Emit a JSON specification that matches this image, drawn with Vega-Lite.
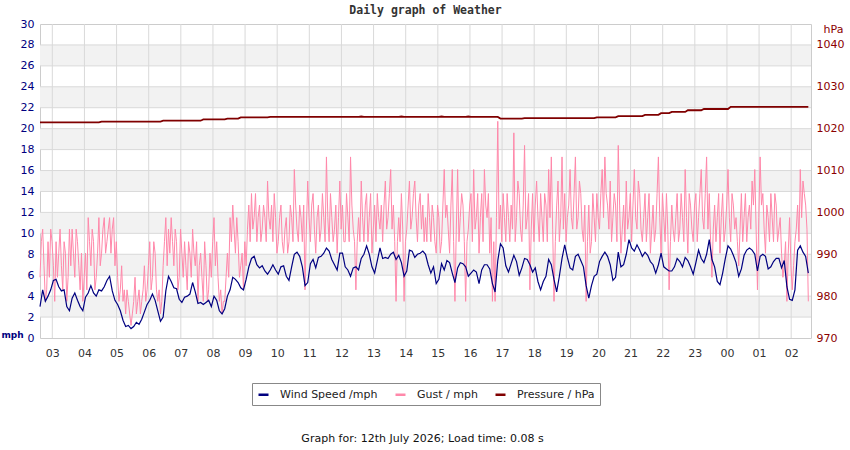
{
  "$schema": "https://vega.github.io/schema/vega-lite/v6.json",
  "width": 771,
  "height": 314,
  "autosize": "none",
  "padding": {"left": 40, "top": 24, "right": 39, "bottom": 112},
  "background": "white",
  "title": {
    "text": "Daily graph of Weather",
    "font": "DejaVu Sans Mono",
    "fontSize": 11.5,
    "fontWeight": "bold",
    "color": "#333333",
    "anchor": "middle",
    "frame": "group",
    "baseline": "alphabetic",
    "offset": 7,
    "dy": 14
  },
  "config": {
    "font": "DejaVu Sans",
    "view": {"stroke": "#cccccc"},
    "axis": {"labelFont": "DejaVu Sans", "titleFont": "DejaVu Sans"}
  },
  "datasets": {
    "wx": [
      {"m":157,"w":3.0,"p":1021.5},{"m":162,"w":4.6,"p":1021.5},{"m":167,"w":3.5,"p":1021.5},{"m":172,"w":4.0,"p":1021.5},{"m":177,"w":4.6,"p":1021.5},
      {"m":182,"w":5.5,"p":1021.5},{"m":187,"w":5.6,"p":1021.5},{"m":192,"w":4.9,"p":1021.5},{"m":197,"w":4.5,"p":1021.5},{"m":202,"w":4.6,"p":1021.5},
      {"m":207,"w":3.0,"p":1021.5},{"m":212,"w":2.6,"p":1021.5},{"m":217,"w":3.8,"p":1021.5},{"m":222,"w":4.3,"p":1021.5},{"m":227,"w":3.6,"p":1021.5},
      {"m":232,"w":3.0,"p":1021.5},{"m":237,"w":2.6,"p":1021.5},{"m":242,"w":3.9,"p":1021.5},{"m":247,"w":4.3,"p":1021.5},{"m":252,"w":5.0,"p":1021.5},
      {"m":257,"w":4.3,"p":1021.5},{"m":262,"w":4.0,"p":1021.5},{"m":267,"w":4.6,"p":1021.5},{"m":272,"w":4.5,"p":1021.7},{"m":277,"w":4.9,"p":1021.7},
      {"m":282,"w":5.5,"p":1021.7},{"m":287,"w":5.9,"p":1021.7},{"m":292,"w":4.5,"p":1021.7},{"m":297,"w":3.6,"p":1021.7},{"m":302,"w":3.2,"p":1021.7},
      {"m":307,"w":2.6,"p":1021.7},{"m":312,"w":1.7,"p":1021.7},{"m":317,"w":1.1,"p":1021.7},{"m":322,"w":1.2,"p":1021.7},{"m":327,"w":0.9,"p":1021.7},
      {"m":332,"w":1.1,"p":1021.7},{"m":337,"w":1.5,"p":1021.7},{"m":342,"w":1.3,"p":1021.7},{"m":347,"w":1.8,"p":1021.7},{"m":352,"w":2.5,"p":1021.7},
      {"m":357,"w":3.2,"p":1021.7},{"m":362,"w":3.6,"p":1021.7},{"m":367,"w":4.2,"p":1021.7},{"m":372,"w":3.6,"p":1021.7},{"m":377,"w":2.6,"p":1021.7},
      {"m":382,"w":1.6,"p":1021.7},{"m":387,"w":2.0,"p":1021.9},{"m":392,"w":4.5,"p":1021.9},{"m":397,"w":5.9,"p":1021.9},{"m":402,"w":5.4,"p":1021.9},
      {"m":407,"w":4.8,"p":1021.9},{"m":412,"w":4.7,"p":1021.9},{"m":417,"w":3.7,"p":1021.9},{"m":422,"w":3.4,"p":1021.9},{"m":427,"w":3.9,"p":1021.9},
      {"m":432,"w":4.0,"p":1021.9},{"m":437,"w":4.2,"p":1021.9},{"m":442,"w":5.3,"p":1021.9},{"m":447,"w":4.4,"p":1021.9},{"m":452,"w":3.3,"p":1021.9},
      {"m":457,"w":3.4,"p":1021.9},{"m":462,"w":3.2,"p":1022.2},{"m":467,"w":3.4,"p":1022.2},{"m":472,"w":3.6,"p":1022.2},{"m":477,"w":3.0,"p":1022.2},
      {"m":482,"w":4.0,"p":1022.2},{"m":487,"w":3.6,"p":1022.2},{"m":492,"w":2.6,"p":1022.2},{"m":497,"w":2.3,"p":1022.2},{"m":502,"w":2.8,"p":1022.2},
      {"m":507,"w":4.0,"p":1022.4},{"m":512,"w":4.6,"p":1022.4},{"m":517,"w":5.8,"p":1022.4},{"m":522,"w":5.6,"p":1022.4},{"m":527,"w":5.3,"p":1022.4},
      {"m":532,"w":4.8,"p":1022.7},{"m":537,"w":4.6,"p":1022.7},{"m":542,"w":5.6,"p":1022.7},{"m":547,"w":6.8,"p":1022.7},{"m":552,"w":7.6,"p":1022.7},
      {"m":557,"w":7.8,"p":1022.7},{"m":562,"w":7.0,"p":1022.7},{"m":567,"w":6.7,"p":1022.7},{"m":572,"w":6.9,"p":1022.7},{"m":577,"w":6.4,"p":1022.7},
      {"m":582,"w":6.1,"p":1022.7},{"m":587,"w":6.5,"p":1022.8},{"m":592,"w":7.0,"p":1022.8},{"m":597,"w":6.5,"p":1022.8},{"m":602,"w":6.1,"p":1022.8},
      {"m":607,"w":6.8,"p":1022.8},{"m":612,"w":6.9,"p":1022.8},{"m":617,"w":5.9,"p":1022.8},{"m":622,"w":5.5,"p":1022.8},{"m":627,"w":6.8,"p":1022.8},
      {"m":632,"w":8.0,"p":1022.8},{"m":637,"w":8.2,"p":1022.8},{"m":642,"w":7.8,"p":1022.8},{"m":647,"w":6.8,"p":1022.8},{"m":652,"w":5.0,"p":1022.8},
      {"m":657,"w":5.3,"p":1022.8},{"m":662,"w":7.1,"p":1022.8},{"m":667,"w":7.5,"p":1022.8},{"m":672,"w":6.7,"p":1022.8},{"m":677,"w":7.7,"p":1022.8},
      {"m":682,"w":7.8,"p":1022.8},{"m":687,"w":8.1,"p":1022.8},{"m":692,"w":8.6,"p":1022.8},{"m":697,"w":8.3,"p":1022.8},{"m":702,"w":7.5,"p":1022.8},
      {"m":707,"w":7.0,"p":1022.8},{"m":712,"w":6.5,"p":1022.8},{"m":717,"w":8.1,"p":1022.8},{"m":722,"w":8.1,"p":1022.8},{"m":727,"w":6.8,"p":1022.8},
      {"m":732,"w":6.5,"p":1022.8},{"m":737,"w":5.9,"p":1022.8},{"m":742,"w":6.7,"p":1022.8},{"m":747,"w":6.8,"p":1022.8},{"m":752,"w":6.5,"p":1022.8},
      {"m":757,"w":7.6,"p":1022.9},{"m":762,"w":8.0,"p":1022.8},{"m":767,"w":8.8,"p":1022.8},{"m":772,"w":8.0,"p":1022.8},{"m":777,"w":6.8,"p":1022.8},
      {"m":782,"w":6.2,"p":1022.8},{"m":787,"w":7.4,"p":1022.8},{"m":792,"w":8.6,"p":1022.8},{"m":797,"w":7.6,"p":1022.8},{"m":802,"w":7.7,"p":1022.8},
      {"m":807,"w":7.6,"p":1022.8},{"m":812,"w":8.0,"p":1022.8},{"m":817,"w":8.2,"p":1022.8},{"m":822,"w":7.5,"p":1022.8},{"m":827,"w":7.9,"p":1022.8},
      {"m":832,"w":7.2,"p":1022.9},{"m":837,"w":5.9,"p":1022.8},{"m":842,"w":6.4,"p":1022.8},{"m":847,"w":8.4,"p":1022.8},{"m":852,"w":8.3,"p":1022.8},
      {"m":857,"w":7.7,"p":1022.8},{"m":862,"w":8.0,"p":1022.8},{"m":867,"w":8.1,"p":1022.8},{"m":872,"w":8.3,"p":1022.8},{"m":877,"w":8.0,"p":1022.8},
      {"m":882,"w":7.0,"p":1022.8},{"m":887,"w":6.2,"p":1022.8},{"m":892,"w":6.8,"p":1022.8},{"m":897,"w":5.2,"p":1022.8},{"m":902,"w":5.6,"p":1022.8},
      {"m":907,"w":7.1,"p":1022.9},{"m":912,"w":6.5,"p":1022.8},{"m":917,"w":7.4,"p":1022.8},{"m":922,"w":7.2,"p":1022.8},{"m":927,"w":6.2,"p":1022.8},
      {"m":932,"w":5.3,"p":1022.8},{"m":937,"w":6.7,"p":1022.8},{"m":942,"w":7.2,"p":1022.8},{"m":947,"w":7.1,"p":1022.8},{"m":952,"w":6.8,"p":1022.8},
      {"m":957,"w":5.9,"p":1022.9},{"m":962,"w":6.2,"p":1022.8},{"m":967,"w":6.5,"p":1022.8},{"m":972,"w":6.3,"p":1022.8},{"m":977,"w":5.2,"p":1022.8},
      {"m":982,"w":6.5,"p":1022.8},{"m":987,"w":7.0,"p":1022.8},{"m":992,"w":7.0,"p":1022.8},{"m":997,"w":6.6,"p":1022.8},{"m":1002,"w":5.2,"p":1022.8},
      {"m":1007,"w":4.4,"p":1022.8},{"m":1012,"w":7.4,"p":1022.8},{"m":1017,"w":9.0,"p":1022.4},{"m":1022,"w":8.6,"p":1022.4},{"m":1027,"w":6.9,"p":1022.4},
      {"m":1032,"w":6.3,"p":1022.4},{"m":1037,"w":7.1,"p":1022.4},{"m":1042,"w":7.9,"p":1022.4},{"m":1047,"w":7.3,"p":1022.4},{"m":1052,"w":6.0,"p":1022.4},
      {"m":1057,"w":6.7,"p":1022.4},{"m":1062,"w":7.6,"p":1022.5},{"m":1067,"w":7.5,"p":1022.5},{"m":1072,"w":7.0,"p":1022.5},{"m":1077,"w":6.3,"p":1022.5},
      {"m":1082,"w":6.7,"p":1022.5},{"m":1087,"w":5.4,"p":1022.5},{"m":1092,"w":4.6,"p":1022.5},{"m":1097,"w":5.4,"p":1022.5},{"m":1102,"w":5.9,"p":1022.5},
      {"m":1107,"w":7.5,"p":1022.5},{"m":1112,"w":7.0,"p":1022.5},{"m":1117,"w":5.6,"p":1022.5},{"m":1122,"w":4.4,"p":1022.5},{"m":1127,"w":5.9,"p":1022.5},
      {"m":1132,"w":7.6,"p":1022.5},{"m":1137,"w":8.9,"p":1022.5},{"m":1142,"w":7.7,"p":1022.5},{"m":1147,"w":6.7,"p":1022.5},{"m":1152,"w":6.5,"p":1022.5},
      {"m":1157,"w":7.8,"p":1022.5},{"m":1162,"w":8.0,"p":1022.5},{"m":1167,"w":7.4,"p":1022.5},{"m":1172,"w":6.8,"p":1022.5},{"m":1177,"w":5.0,"p":1022.5},
      {"m":1182,"w":3.8,"p":1022.5},{"m":1187,"w":5.0,"p":1022.5},{"m":1192,"w":5.9,"p":1022.5},{"m":1197,"w":6.1,"p":1022.7},{"m":1202,"w":7.3,"p":1022.7},
      {"m":1207,"w":7.8,"p":1022.7},{"m":1212,"w":8.2,"p":1022.7},{"m":1217,"w":7.8,"p":1022.7},{"m":1222,"w":7.0,"p":1022.7},{"m":1227,"w":5.5,"p":1022.7},
      {"m":1232,"w":5.8,"p":1022.7},{"m":1237,"w":8.2,"p":1023.0},{"m":1242,"w":6.8,"p":1023.0},{"m":1247,"w":7.0,"p":1023.0},{"m":1252,"w":8.0,"p":1023.0},
      {"m":1257,"w":9.4,"p":1023.0},{"m":1262,"w":8.6,"p":1023.0},{"m":1267,"w":8.3,"p":1023.0},{"m":1272,"w":8.9,"p":1023.0},{"m":1277,"w":8.4,"p":1023.0},
      {"m":1282,"w":7.8,"p":1023.0},{"m":1287,"w":8.2,"p":1023.3},{"m":1292,"w":7.9,"p":1023.3},{"m":1297,"w":7.3,"p":1023.3},{"m":1302,"w":7.0,"p":1023.3},
      {"m":1307,"w":6.2,"p":1023.3},{"m":1312,"w":7.0,"p":1023.3},{"m":1317,"w":8.1,"p":1023.7},{"m":1322,"w":6.8,"p":1023.7},{"m":1327,"w":6.6,"p":1023.7},
      {"m":1332,"w":6.4,"p":1023.7},{"m":1337,"w":6.4,"p":1024.0},{"m":1342,"w":6.8,"p":1024.0},{"m":1347,"w":7.6,"p":1024.0},{"m":1352,"w":7.3,"p":1024.0},
      {"m":1357,"w":6.8,"p":1024.0},{"m":1362,"w":7.7,"p":1024.0},{"m":1367,"w":7.4,"p":1024.4},{"m":1372,"w":6.8,"p":1024.4},{"m":1377,"w":6.1,"p":1024.4},
      {"m":1382,"w":7.2,"p":1024.4},{"m":1387,"w":8.4,"p":1024.4},{"m":1392,"w":7.6,"p":1024.4},{"m":1397,"w":7.2,"p":1024.7},{"m":1402,"w":8.0,"p":1024.7},
      {"m":1407,"w":9.4,"p":1024.7},{"m":1412,"w":7.5,"p":1024.7},{"m":1417,"w":6.8,"p":1024.7},{"m":1422,"w":5.4,"p":1024.7},{"m":1427,"w":5.1,"p":1024.7},
      {"m":1432,"w":6.2,"p":1024.7},{"m":1437,"w":7.6,"p":1024.7},{"m":1442,"w":8.8,"p":1024.7},{"m":1447,"w":8.5,"p":1025.2},{"m":1452,"w":7.9,"p":1025.2},
      {"m":1457,"w":7.2,"p":1025.2},{"m":1462,"w":5.9,"p":1025.2},{"m":1467,"w":6.6,"p":1025.2},{"m":1472,"w":7.9,"p":1025.2},{"m":1477,"w":8.4,"p":1025.2},
      {"m":1482,"w":8.6,"p":1025.2},{"m":1487,"w":8.4,"p":1025.2},{"m":1492,"w":8.0,"p":1025.2},{"m":1497,"w":6.4,"p":1025.2},{"m":1502,"w":7.8,"p":1025.2},
      {"m":1507,"w":8.0,"p":1025.2},{"m":1512,"w":7.8,"p":1025.2},{"m":1517,"w":6.6,"p":1025.2},{"m":1522,"w":6.8,"p":1025.2},{"m":1527,"w":7.3,"p":1025.2},
      {"m":1532,"w":7.6,"p":1025.2},{"m":1537,"w":7.6,"p":1025.2},{"m":1542,"w":6.7,"p":1025.2},{"m":1547,"w":7.4,"p":1025.2},{"m":1552,"w":4.9,"p":1025.2},
      {"m":1557,"w":3.7,"p":1025.2},{"m":1562,"w":3.6,"p":1025.2},{"m":1567,"w":4.6,"p":1025.2},{"m":1572,"w":8.4,"p":1025.2},{"m":1577,"w":8.8,"p":1025.2},
      {"m":1582,"w":8.2,"p":1025.2},{"m":1587,"w":7.8,"p":1025.2},{"m":1592,"w":6.2,"p":1025.2}
    ],
    "gust": [
      {"m":157,"g":5.8},{"m":159.5,"g":9.2},{"m":162,"g":10.4},{"m":164.5,"g":6.9},{"m":167,"g":3.5},{"m":169.5,"g":4.6},{"m":172,"g":9.2},{"m":174.5,"g":5.8},{"m":177,"g":10.4},{"m":179.5,"g":9.2},
      {"m":182,"g":6.9},{"m":184.5,"g":3.5},{"m":187,"g":9.2},{"m":189.5,"g":5.8},{"m":192,"g":8.1},{"m":194.5,"g":10.4},{"m":197,"g":6.9},{"m":199.5,"g":4.6},{"m":202,"g":9.2},{"m":204.5,"g":8.1},
      {"m":207,"g":3.5},{"m":209.5,"g":5.8},{"m":212,"g":10.4},{"m":214.5,"g":6.9},{"m":217,"g":10.4},{"m":219.5,"g":8.1},{"m":222,"g":5.8},{"m":224.5,"g":10.4},{"m":227,"g":9.2},{"m":229.5,"g":6.9},
      {"m":232,"g":4.6},{"m":234.5,"g":8.1},{"m":237,"g":3.5},{"m":239.5,"g":5.8},{"m":242,"g":8.1},{"m":244.5,"g":4.6},{"m":247,"g":11.5},{"m":249.5,"g":9.2},{"m":252,"g":6.9},{"m":254.5,"g":10.4},
      {"m":257,"g":9.2},{"m":259.5,"g":4.6},{"m":262,"g":5.8},{"m":264.5,"g":8.1},{"m":267,"g":11.5},{"m":269.5,"g":6.9},{"m":272,"g":8.1},{"m":274.5,"g":10.4},{"m":277,"g":11.5},{"m":279.5,"g":8.1},
      {"m":282,"g":9.2},{"m":284.5,"g":10.4},{"m":287,"g":11.5},{"m":289.5,"g":8.1},{"m":292,"g":10.4},{"m":294.5,"g":11.5},{"m":297,"g":6.9},{"m":299.5,"g":9.2},{"m":302,"g":5.8},{"m":304.5,"g":3.5},
      {"m":307,"g":4.6},{"m":309.5,"g":6.9},{"m":312,"g":3.5},{"m":314.5,"g":4.6},{"m":317,"g":2.3},{"m":319.5,"g":4.6},{"m":322,"g":3.5},{"m":324.5,"g":2.3},{"m":327,"g":1.2},{"m":329.5,"g":2.3},
      {"m":332,"g":3.5},{"m":334.5,"g":5.8},{"m":337,"g":2.3},{"m":339.5,"g":3.5},{"m":342,"g":4.6},{"m":344.5,"g":2.3},{"m":347,"g":3.5},{"m":349.5,"g":4.6},{"m":352,"g":6.9},{"m":354.5,"g":3.5},
      {"m":357,"g":4.6},{"m":359.5,"g":6.9},{"m":362,"g":9.2},{"m":364.5,"g":4.6},{"m":367,"g":5.8},{"m":369.5,"g":9.2},{"m":372,"g":8.1},{"m":374.5,"g":4.6},{"m":377,"g":3.5},{"m":379.5,"g":4.6},
      {"m":382,"g":2.3},{"m":384.5,"g":3.5},{"m":387,"g":6.9},{"m":389.5,"g":9.2},{"m":392,"g":11.5},{"m":394.5,"g":6.9},{"m":397,"g":10.4},{"m":399.5,"g":8.1},{"m":402,"g":11.5},{"m":404.5,"g":9.2},
      {"m":407,"g":6.9},{"m":409.5,"g":10.4},{"m":412,"g":9.2},{"m":414.5,"g":4.6},{"m":417,"g":5.8},{"m":419.5,"g":10.4},{"m":422,"g":8.1},{"m":424.5,"g":5.8},{"m":427,"g":9.2},{"m":429.5,"g":6.9},
      {"m":432,"g":4.6},{"m":434.5,"g":9.2},{"m":437,"g":8.1},{"m":439.5,"g":5.8},{"m":442,"g":10.4},{"m":444.5,"g":8.1},{"m":447,"g":6.9},{"m":449.5,"g":9.2},{"m":452,"g":3.5},{"m":454.5,"g":6.9},
      {"m":457,"g":8.1},{"m":459.5,"g":5.8},{"m":462,"g":3.5},{"m":464.5,"g":9.2},{"m":467,"g":6.9},{"m":469.5,"g":3.5},{"m":472,"g":4.6},{"m":474.5,"g":8.1},{"m":477,"g":5.8},{"m":479.5,"g":9.2},
      {"m":482,"g":11.5},{"m":484.5,"g":6.9},{"m":487,"g":9.2},{"m":489.5,"g":5.8},{"m":492,"g":3.5},{"m":494.5,"g":4.6},{"m":497,"g":2.3},{"m":499.5,"g":3.5},{"m":502,"g":3.5},{"m":504.5,"g":5.8},
      {"m":507,"g":8.1},{"m":509.5,"g":5.8},{"m":512,"g":11.5},{"m":514.5,"g":9.2},{"m":517,"g":12.7},{"m":519.5,"g":10.4},{"m":522,"g":8.1},{"m":524.5,"g":11.5},{"m":527,"g":9.2},{"m":529.5,"g":5.8},
      {"m":532,"g":6.9},{"m":534.5,"g":8.1},{"m":537,"g":4.6},{"m":539.5,"g":9.2},{"m":542,"g":6.9},{"m":544.5,"g":10.4},{"m":547,"g":12.7},{"m":549.5,"g":9.2},{"m":552,"g":13.8},{"m":554.5,"g":10.4},
      {"m":557,"g":11.5},{"m":559.5,"g":13.8},{"m":562,"g":9.2},{"m":564.5,"g":11.5},{"m":567,"g":12.7},{"m":569.5,"g":9.2},{"m":572,"g":10.4},{"m":574.5,"g":12.7},{"m":577,"g":11.5},{"m":579.5,"g":9.2},
      {"m":582,"g":15.0},{"m":584.5,"g":11.5},{"m":587,"g":10.4},{"m":589.5,"g":12.7},{"m":592,"g":9.2},{"m":594.5,"g":13.8},{"m":597,"g":11.5},{"m":599.5,"g":8.1},{"m":602,"g":9.2},{"m":604.5,"g":11.5},
      {"m":607,"g":12.7},{"m":609.5,"g":9.2},{"m":612,"g":8.1},{"m":614.5,"g":10.4},{"m":617,"g":11.5},{"m":619.5,"g":8.1},{"m":622,"g":9.2},{"m":624.5,"g":12.7},{"m":627,"g":11.5},{"m":629.5,"g":9.2},
      {"m":632,"g":16.1},{"m":634.5,"g":12.7},{"m":637,"g":10.4},{"m":639.5,"g":9.2},{"m":642,"g":12.7},{"m":644.5,"g":11.5},{"m":647,"g":9.2},{"m":649.5,"g":12.7},{"m":652,"g":4.6},{"m":654.5,"g":10.4},
      {"m":657,"g":15.0},{"m":659.5,"g":11.5},{"m":662,"g":9.2},{"m":664.5,"g":12.7},{"m":667,"g":13.8},{"m":669.5,"g":10.4},{"m":672,"g":8.1},{"m":674.5,"g":11.5},{"m":677,"g":12.7},{"m":679.5,"g":9.2},
      {"m":682,"g":10.4},{"m":684.5,"g":13.8},{"m":687,"g":11.5},{"m":689.5,"g":9.2},{"m":692,"g":17.3},{"m":694.5,"g":11.5},{"m":697,"g":9.2},{"m":699.5,"g":13.8},{"m":702,"g":11.5},{"m":704.5,"g":9.2},
      {"m":707,"g":10.4},{"m":709.5,"g":12.7},{"m":712,"g":8.1},{"m":714.5,"g":11.5},{"m":717,"g":15.0},{"m":719.5,"g":10.4},{"m":722,"g":12.7},{"m":724.5,"g":9.2},{"m":727,"g":9.2},{"m":729.5,"g":13.8},
      {"m":732,"g":11.5},{"m":734.5,"g":9.2},{"m":737,"g":17.3},{"m":739.5,"g":12.7},{"m":742,"g":10.4},{"m":744.5,"g":9.2},{"m":747,"g":4.6},{"m":749.5,"g":9.2},{"m":752,"g":11.5},{"m":754.5,"g":9.2},
      {"m":757,"g":15.0},{"m":759.5,"g":11.5},{"m":762,"g":9.2},{"m":764.5,"g":12.7},{"m":767,"g":13.8},{"m":769.5,"g":9.2},{"m":772,"g":11.5},{"m":774.5,"g":13.8},{"m":777,"g":8.1},{"m":779.5,"g":10.4},
      {"m":782,"g":12.7},{"m":784.5,"g":9.2},{"m":787,"g":13.8},{"m":789.5,"g":11.5},{"m":792,"g":10.4},{"m":794.5,"g":12.7},{"m":797,"g":9.2},{"m":799.5,"g":12.7},{"m":802,"g":15.0},{"m":804.5,"g":10.4},
      {"m":807,"g":11.5},{"m":809.5,"g":13.8},{"m":812,"g":16.1},{"m":814.5,"g":10.4},{"m":817,"g":12.7},{"m":819.5,"g":9.2},{"m":822,"g":3.5},{"m":824.5,"g":9.2},{"m":827,"g":11.5},{"m":829.5,"g":9.2},
      {"m":832,"g":13.8},{"m":834.5,"g":10.4},{"m":837,"g":3.5},{"m":839.5,"g":9.2},{"m":842,"g":10.4},{"m":844.5,"g":12.7},{"m":847,"g":15.0},{"m":849.5,"g":10.4},{"m":852,"g":11.5},{"m":854.5,"g":13.8},
      {"m":857,"g":15.0},{"m":859.5,"g":11.5},{"m":862,"g":9.2},{"m":864.5,"g":12.7},{"m":867,"g":13.8},{"m":869.5,"g":10.4},{"m":872,"g":12.7},{"m":874.5,"g":9.2},{"m":877,"g":11.5},{"m":879.5,"g":9.2},
      {"m":882,"g":13.8},{"m":884.5,"g":11.5},{"m":887,"g":9.2},{"m":889.5,"g":12.7},{"m":892,"g":11.5},{"m":894.5,"g":9.2},{"m":897,"g":8.1},{"m":899.5,"g":12.7},{"m":902,"g":11.5},{"m":904.5,"g":8.1},
      {"m":907,"g":9.2},{"m":909.5,"g":12.7},{"m":912,"g":16.1},{"m":914.5,"g":11.5},{"m":917,"g":12.7},{"m":919.5,"g":10.4},{"m":922,"g":8.1},{"m":924.5,"g":12.7},{"m":927,"g":16.1},{"m":929.5,"g":9.2},
      {"m":932,"g":3.5},{"m":934.5,"g":10.4},{"m":937,"g":16.1},{"m":939.5,"g":9.2},{"m":942,"g":11.5},{"m":944.5,"g":13.8},{"m":947,"g":12.7},{"m":949.5,"g":9.2},{"m":952,"g":3.5},{"m":954.5,"g":9.2},
      {"m":957,"g":10.4},{"m":959.5,"g":12.7},{"m":962,"g":13.8},{"m":964.5,"g":9.2},{"m":967,"g":16.1},{"m":969.5,"g":10.4},{"m":972,"g":11.5},{"m":974.5,"g":13.8},{"m":977,"g":8.1},{"m":979.5,"g":11.5},
      {"m":982,"g":13.8},{"m":984.5,"g":9.2},{"m":987,"g":16.1},{"m":989.5,"g":12.7},{"m":992,"g":11.5},{"m":994.5,"g":13.8},{"m":997,"g":8.1},{"m":999.5,"g":11.5},{"m":1002,"g":3.5},{"m":1004.5,"g":9.2},
      {"m":1007,"g":3.5},{"m":1009.5,"g":11.5},{"m":1012,"g":20.7},{"m":1014.5,"g":10.4},{"m":1017,"g":12.7},{"m":1019.5,"g":9.2},{"m":1022,"g":13.8},{"m":1024.5,"g":11.5},{"m":1027,"g":9.2},{"m":1029.5,"g":13.8},
      {"m":1032,"g":11.5},{"m":1034.5,"g":9.2},{"m":1037,"g":12.7},{"m":1039.5,"g":10.4},{"m":1042,"g":19.6},{"m":1044.5,"g":9.2},{"m":1047,"g":11.5},{"m":1049.5,"g":15.0},{"m":1052,"g":13.8},{"m":1054.5,"g":10.4},
      {"m":1057,"g":9.2},{"m":1059.5,"g":12.7},{"m":1062,"g":18.4},{"m":1064.5,"g":10.4},{"m":1067,"g":11.5},{"m":1069.5,"g":13.8},{"m":1072,"g":4.6},{"m":1074.5,"g":10.4},{"m":1077,"g":13.8},{"m":1079.5,"g":9.2},
      {"m":1082,"g":12.7},{"m":1084.5,"g":15.0},{"m":1087,"g":11.5},{"m":1089.5,"g":9.2},{"m":1092,"g":13.8},{"m":1094.5,"g":11.5},{"m":1097,"g":9.2},{"m":1099.5,"g":13.8},{"m":1102,"g":12.7},{"m":1104.5,"g":9.2},
      {"m":1107,"g":16.1},{"m":1109.5,"g":11.5},{"m":1112,"g":17.3},{"m":1114.5,"g":10.4},{"m":1117,"g":3.5},{"m":1119.5,"g":9.2},{"m":1122,"g":12.7},{"m":1124.5,"g":15.0},{"m":1127,"g":9.2},{"m":1129.5,"g":11.5},
      {"m":1132,"g":17.3},{"m":1134.5,"g":10.4},{"m":1137,"g":13.8},{"m":1139.5,"g":9.2},{"m":1142,"g":11.5},{"m":1144.5,"g":12.7},{"m":1147,"g":16.1},{"m":1149.5,"g":11.5},{"m":1152,"g":10.4},{"m":1154.5,"g":13.8},
      {"m":1157,"g":17.3},{"m":1159.5,"g":10.4},{"m":1162,"g":11.5},{"m":1164.5,"g":15.0},{"m":1167,"g":13.8},{"m":1169.5,"g":10.4},{"m":1172,"g":9.2},{"m":1174.5,"g":12.7},{"m":1177,"g":3.5},{"m":1179.5,"g":9.2},
      {"m":1182,"g":12.7},{"m":1184.5,"g":8.1},{"m":1187,"g":9.2},{"m":1189.5,"g":13.8},{"m":1192,"g":11.5},{"m":1194.5,"g":9.2},{"m":1197,"g":13.8},{"m":1199.5,"g":11.5},{"m":1202,"g":10.4},{"m":1204.5,"g":13.8},
      {"m":1207,"g":16.1},{"m":1209.5,"g":11.5},{"m":1212,"g":17.3},{"m":1214.5,"g":13.8},{"m":1217,"g":12.7},{"m":1219.5,"g":10.4},{"m":1222,"g":15.0},{"m":1224.5,"g":9.2},{"m":1227,"g":11.5},{"m":1229.5,"g":13.8},
      {"m":1232,"g":12.7},{"m":1234.5,"g":9.2},{"m":1237,"g":18.4},{"m":1239.5,"g":12.7},{"m":1242,"g":8.1},{"m":1244.5,"g":10.4},{"m":1247,"g":12.7},{"m":1249.5,"g":9.2},{"m":1252,"g":15.0},{"m":1254.5,"g":10.4},
      {"m":1257,"g":11.5},{"m":1259.5,"g":13.8},{"m":1262,"g":9.2},{"m":1264.5,"g":12.7},{"m":1267,"g":16.1},{"m":1269.5,"g":11.5},{"m":1272,"g":10.4},{"m":1274.5,"g":15.0},{"m":1277,"g":13.8},{"m":1279.5,"g":10.4},
      {"m":1282,"g":9.2},{"m":1284.5,"g":11.5},{"m":1287,"g":13.8},{"m":1289.5,"g":9.2},{"m":1292,"g":11.5},{"m":1294.5,"g":13.8},{"m":1297,"g":8.1},{"m":1299.5,"g":10.4},{"m":1302,"g":12.7},{"m":1304.5,"g":9.2},
      {"m":1307,"g":10.4},{"m":1309.5,"g":13.8},{"m":1312,"g":17.3},{"m":1314.5,"g":11.5},{"m":1317,"g":8.1},{"m":1319.5,"g":13.8},{"m":1322,"g":11.5},{"m":1324.5,"g":9.2},{"m":1327,"g":13.8},{"m":1329.5,"g":10.4},
      {"m":1332,"g":4.6},{"m":1334.5,"g":9.2},{"m":1337,"g":12.7},{"m":1339.5,"g":10.4},{"m":1342,"g":9.2},{"m":1344.5,"g":11.5},{"m":1347,"g":13.8},{"m":1349.5,"g":9.2},{"m":1352,"g":10.4},{"m":1354.5,"g":13.8},
      {"m":1357,"g":11.5},{"m":1359.5,"g":9.2},{"m":1362,"g":16.1},{"m":1364.5,"g":11.5},{"m":1367,"g":8.1},{"m":1369.5,"g":13.8},{"m":1372,"g":12.7},{"m":1374.5,"g":10.4},{"m":1377,"g":9.2},{"m":1379.5,"g":12.7},
      {"m":1382,"g":13.8},{"m":1384.5,"g":9.2},{"m":1387,"g":11.5},{"m":1389.5,"g":13.8},{"m":1392,"g":16.1},{"m":1394.5,"g":11.5},{"m":1397,"g":10.4},{"m":1399.5,"g":13.8},{"m":1402,"g":17.3},{"m":1404.5,"g":10.4},
      {"m":1407,"g":13.8},{"m":1409.5,"g":9.2},{"m":1412,"g":5.8},{"m":1414.5,"g":10.4},{"m":1417,"g":12.7},{"m":1419.5,"g":9.2},{"m":1422,"g":11.5},{"m":1424.5,"g":13.8},{"m":1427,"g":8.1},{"m":1429.5,"g":11.5},
      {"m":1432,"g":13.8},{"m":1434.5,"g":9.2},{"m":1437,"g":10.4},{"m":1439.5,"g":12.7},{"m":1442,"g":16.1},{"m":1444.5,"g":11.5},{"m":1447,"g":9.2},{"m":1449.5,"g":13.8},{"m":1452,"g":12.7},{"m":1454.5,"g":10.4},
      {"m":1457,"g":11.5},{"m":1459.5,"g":9.2},{"m":1462,"g":6.9},{"m":1464.5,"g":10.4},{"m":1467,"g":13.8},{"m":1469.5,"g":9.2},{"m":1472,"g":11.5},{"m":1474.5,"g":13.8},{"m":1477,"g":9.2},{"m":1479.5,"g":11.5},
      {"m":1482,"g":12.7},{"m":1484.5,"g":10.4},{"m":1487,"g":15.0},{"m":1489.5,"g":12.7},{"m":1492,"g":16.1},{"m":1494.5,"g":10.4},{"m":1497,"g":4.6},{"m":1499.5,"g":11.5},{"m":1502,"g":17.3},{"m":1504.5,"g":12.7},
      {"m":1507,"g":13.8},{"m":1509.5,"g":10.4},{"m":1512,"g":8.1},{"m":1514.5,"g":12.7},{"m":1517,"g":11.5},{"m":1519.5,"g":9.2},{"m":1522,"g":13.8},{"m":1524.5,"g":11.5},{"m":1527,"g":9.2},{"m":1529.5,"g":13.8},
      {"m":1532,"g":12.7},{"m":1534.5,"g":9.2},{"m":1537,"g":10.4},{"m":1539.5,"g":11.5},{"m":1542,"g":8.1},{"m":1544.5,"g":5.8},{"m":1547,"g":6.9},{"m":1549.5,"g":9.2},{"m":1552,"g":3.5},{"m":1554.5,"g":8.1},
      {"m":1557,"g":11.5},{"m":1559.5,"g":6.9},{"m":1562,"g":4.6},{"m":1564.5,"g":6.9},{"m":1567,"g":9.2},{"m":1569.5,"g":10.4},{"m":1572,"g":12.7},{"m":1574.5,"g":9.2},{"m":1577,"g":16.1},{"m":1579.5,"g":11.5},
      {"m":1582,"g":15.0},{"m":1584.5,"g":13.8},{"m":1587,"g":12.7},{"m":1589.5,"g":10.4},{"m":1592,"g":3.5}
    ]
  },
  "layer": [
    {
      "layer": [
        {
          "data": {"values": [{"lo":2,"hi":4},{"lo":6,"hi":8},{"lo":10,"hi":12},{"lo":14,"hi":16},{"lo":18,"hi":20},{"lo":22,"hi":24},{"lo":26,"hi":28}]},
          "mark": {"type": "rect", "color": "#f2f2f2"},
          "encoding": {
            "y": {"field": "lo", "type": "quantitative", "scale": {"domain": [0, 30], "nice": false, "zero": false},
                  "axis": {"values": [0,2,4,6,8,10,12,14,16,18,20,22,24,26,28,30], "grid": false, "ticks": false, "domain": false, "labelFlush": false, "labelOverlap": false, "labelColor": "#000080", "labelFontSize": 11, "labelPadding": 6, "title": "mph", "titleAngle": 0, "titleX": -28, "titleY": 310, "titleAlign": "center", "titleBaseline": "middle", "titleColor": "#000080", "titleFontSize": 9, "titleFontWeight": "bold"}},
            "y2": {"field": "hi"}
          }
        },
        {
          "data": {"values": [{"v":2},{"v":4},{"v":6},{"v":8},{"v":10},{"v":12},{"v":14},{"v":16},{"v":18},{"v":20},{"v":22},{"v":24},{"v":26},{"v":28}]},
          "mark": {"type": "rule", "color": "#d9d9d9", "strokeWidth": 1},
          "encoding": {
            "y": {"field": "v", "type": "quantitative", "scale": {"domain": [0, 30], "nice": false, "zero": false},
                  "axis": {"values": [0,2,4,6,8,10,12,14,16,18,20,22,24,26,28,30], "grid": false, "ticks": false, "domain": false, "labelFlush": false, "labelOverlap": false, "labelColor": "#000080", "labelFontSize": 11, "labelPadding": 6, "title": "mph", "titleAngle": 0, "titleX": -28, "titleY": 310, "titleAlign": "center", "titleBaseline": "middle", "titleColor": "#000080", "titleFontSize": 9, "titleFontWeight": "bold"}}
          }
        },
        {
          "data": {"values": [{"h":180},{"h":240},{"h":300},{"h":360},{"h":420},{"h":480},{"h":540},{"h":600},{"h":660},{"h":720},{"h":780},{"h":840},{"h":900},{"h":960},{"h":1020},{"h":1080},{"h":1140},{"h":1200},{"h":1260},{"h":1320},{"h":1380},{"h":1440},{"h":1500},{"h":1560}]},
          "mark": {"type": "rule", "color": "#d9d9d9", "strokeWidth": 1},
          "encoding": {
            "x": {"field": "h", "type": "quantitative", "scale": {"domain": [157, 1597], "nice": false, "zero": false},
                  "axis": {"values": [180,240,300,360,420,480,540,600,660,720,780,840,900,960,1020,1080,1140,1200,1260,1320,1380,1440,1500,1560], "labelExpr": "(floor(datum.value/60)%24 < 10 ? '0' : '') + (floor(datum.value/60)%24)", "grid": false, "ticks": false, "domain": false, "labelFlush": false, "labelOverlap": false, "labelColor": "#333333", "labelFontSize": 11, "labelPadding": 9, "title": "Graph for: 12th July 2026; Load time: 0.08 s", "titleX": 382, "titleY": 100, "titleAlign": "center", "titleBaseline": "middle", "titleFontWeight": "normal", "titleFontSize": 11, "titleColor": "#111111"}}
          }
        },
        {
          "data": {"name": "gust"},
          "mark": {"type": "line", "strokeWidth": 1},
          "encoding": {
            "x": {"field": "m", "type": "quantitative", "scale": {"domain": [157, 1597], "nice": false, "zero": false},
                  "axis": {"values": [180,240,300,360,420,480,540,600,660,720,780,840,900,960,1020,1080,1140,1200,1260,1320,1380,1440,1500,1560], "labelExpr": "(floor(datum.value/60)%24 < 10 ? '0' : '') + (floor(datum.value/60)%24)", "grid": false, "ticks": false, "domain": false, "labelFlush": false, "labelOverlap": false, "labelColor": "#333333", "labelFontSize": 11, "labelPadding": 9, "title": "Graph for: 12th July 2026; Load time: 0.08 s", "titleX": 382, "titleY": 100, "titleAlign": "center", "titleBaseline": "middle", "titleFontWeight": "normal", "titleFontSize": 11, "titleColor": "#111111"}},
            "y": {"field": "g", "type": "quantitative", "scale": {"domain": [0, 30], "nice": false, "zero": false},
                  "axis": {"values": [0,2,4,6,8,10,12,14,16,18,20,22,24,26,28,30], "grid": false, "ticks": false, "domain": false, "labelFlush": false, "labelOverlap": false, "labelColor": "#000080", "labelFontSize": 11, "labelPadding": 6, "title": "mph", "titleAngle": 0, "titleX": -28, "titleY": 310, "titleAlign": "center", "titleBaseline": "middle", "titleColor": "#000080", "titleFontSize": 9, "titleFontWeight": "bold"}},
            "color": {"datum": "Gust / mph", "type": "nominal",
                      "scale": {"domain": ["Wind Speed /mph", "Gust / mph", "Pressure / hPa"], "range": ["#000080", "#ff88aa", "#800000"]},
                      "legend": {"title": null, "orient": "none", "legendX": 212, "legendY": 359, "direction": "horizontal", "symbolType": "stroke", "symbolSize": 100, "symbolStrokeWidth": 2.5, "labelFontSize": 11, "labelColor": "#222222", "labelOffset": 10, "columnPadding": 12, "padding": 5, "strokeColor": "#888888", "fillColor": "#ffffff"}}
          }
        },
        {
          "data": {"name": "wx"},
          "mark": {"type": "line", "strokeWidth": 1.2},
          "encoding": {
            "x": {"field": "m", "type": "quantitative", "scale": {"domain": [157, 1597], "nice": false, "zero": false},
                  "axis": {"values": [180,240,300,360,420,480,540,600,660,720,780,840,900,960,1020,1080,1140,1200,1260,1320,1380,1440,1500,1560], "labelExpr": "(floor(datum.value/60)%24 < 10 ? '0' : '') + (floor(datum.value/60)%24)", "grid": false, "ticks": false, "domain": false, "labelFlush": false, "labelOverlap": false, "labelColor": "#333333", "labelFontSize": 11, "labelPadding": 9, "title": "Graph for: 12th July 2026; Load time: 0.08 s", "titleX": 382, "titleY": 100, "titleAlign": "center", "titleBaseline": "middle", "titleFontWeight": "normal", "titleFontSize": 11, "titleColor": "#111111"}},
            "y": {"field": "w", "type": "quantitative", "scale": {"domain": [0, 30], "nice": false, "zero": false},
                  "axis": {"values": [0,2,4,6,8,10,12,14,16,18,20,22,24,26,28,30], "grid": false, "ticks": false, "domain": false, "labelFlush": false, "labelOverlap": false, "labelColor": "#000080", "labelFontSize": 11, "labelPadding": 6, "title": "mph", "titleAngle": 0, "titleX": -28, "titleY": 310, "titleAlign": "center", "titleBaseline": "middle", "titleColor": "#000080", "titleFontSize": 9, "titleFontWeight": "bold"}},
            "color": {"datum": "Wind Speed /mph", "type": "nominal",
                      "scale": {"domain": ["Wind Speed /mph", "Gust / mph", "Pressure / hPa"], "range": ["#000080", "#ff88aa", "#800000"]},
                      "legend": {"title": null, "orient": "none", "legendX": 212, "legendY": 359, "direction": "horizontal", "symbolType": "stroke", "symbolSize": 100, "symbolStrokeWidth": 2.5, "labelFontSize": 11, "labelColor": "#222222", "labelOffset": 10, "columnPadding": 12, "padding": 5, "strokeColor": "#888888", "fillColor": "#ffffff"}}
          }
        }
      ]
    },
    {
      "data": {"name": "wx"},
      "mark": {"type": "line", "strokeWidth": 1.8},
      "encoding": {
        "x": {"field": "m", "type": "quantitative", "scale": {"domain": [157, 1597], "nice": false, "zero": false},
              "axis": {"values": [180,240,300,360,420,480,540,600,660,720,780,840,900,960,1020,1080,1140,1200,1260,1320,1380,1440,1500,1560], "labelExpr": "(floor(datum.value/60)%24 < 10 ? '0' : '') + (floor(datum.value/60)%24)", "grid": false, "ticks": false, "domain": false, "labelFlush": false, "labelOverlap": false, "labelColor": "#333333", "labelFontSize": 11, "labelPadding": 9, "title": "Graph for: 12th July 2026; Load time: 0.08 s", "titleX": 382, "titleY": 100, "titleAlign": "center", "titleBaseline": "middle", "titleFontWeight": "normal", "titleFontSize": 11, "titleColor": "#111111"}},
        "y": {"field": "p", "type": "quantitative", "scale": {"domain": [970, 1045], "nice": false, "zero": false},
              "axis": {"orient": "right", "values": [970,980,990,1000,1010,1020,1030,1040], "format": "d", "grid": false, "ticks": false, "domain": false, "labelFlush": false, "labelOverlap": false, "labelColor": "#8b0000", "labelFontSize": 11, "labelPadding": 5, "title": "hPa", "titleAngle": 0, "titleX": 22, "titleY": 5, "titleAlign": "center", "titleBaseline": "middle", "titleColor": "#8b0000", "titleFontSize": 11, "titleFontWeight": "normal"}},
        "color": {"datum": "Pressure / hPa", "type": "nominal",
                  "scale": {"domain": ["Wind Speed /mph", "Gust / mph", "Pressure / hPa"], "range": ["#000080", "#ff88aa", "#800000"]},
                  "legend": {"title": null, "orient": "none", "legendX": 212, "legendY": 359, "direction": "horizontal", "symbolType": "stroke", "symbolSize": 100, "symbolStrokeWidth": 2.5, "labelFontSize": 11, "labelColor": "#222222", "labelOffset": 10, "columnPadding": 12, "padding": 5, "strokeColor": "#888888", "fillColor": "#ffffff"}}
      }
    }
  ],
  "resolve": {"scale": {"y": "independent"}, "axis": {"y": "independent"}}
}
